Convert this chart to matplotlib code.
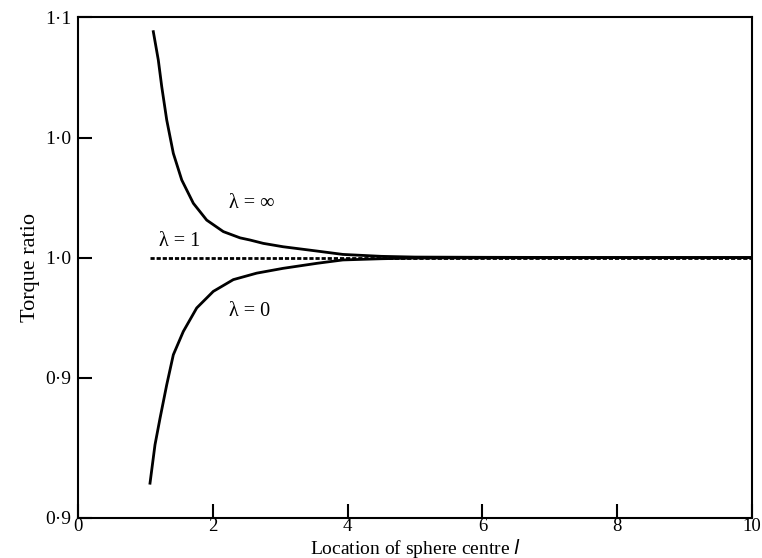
import matplotlib.pyplot as plt

# values
l_inf = [1.117, 1.191, 1.242, 1.316, 1.414, 1.539, 1.711, 1.909, 2.156, 2.404,
         2.552, 2.749, 3.042, 3.546, 3.93, 4.5, 5.0, 6.0, 8.0, 10.0]
r_inf = [1.0941, 1.0823, 1.0712, 1.0573, 1.0434, 1.0323, 1.0226, 1.0156, 1.0108, 1.0082,
         1.0073, 1.0059, 1.0045, 1.0027, 1.0013, 1.0005, 1.0002, 1.0001, 1.0, 1.0]

l_zero = [1.068, 1.142, 1.217, 1.316, 1.414, 1.562, 1.761, 2.007, 2.304, 2.651,
          3.042, 3.546, 3.93, 4.5, 5.0, 6.0, 8.0, 10.0]
r_zero = [0.906, 0.922, 0.9331, 0.947, 0.9595, 0.9692, 0.979, 0.9859, 0.9908, 0.9935,
          0.9955, 0.9976, 0.999, 0.9995, 0.9998, 0.9999, 1.0, 1.0]

l_one = [1.07, 10.0]
r_one = [1.0, 1.0]

y_ticks = [0.8915, 0.95, 1.0, 1.05, 1.10]
y_labels = ["0·9", "0·9", "1·0", "1·0", "1·1"]
x_ticks = [0, 2, 4, 6, 8, 10]

plt.rcParams['font.family'] = ['Liberation Serif', 'DejaVu Serif']

fig = plt.figure(figsize=(7.62, 5.58), dpi=100)
ax = fig.add_axes([0.1024, 0.0717, 0.8845, 0.8978])

ax.plot(l_inf, r_inf, color='black', lw=2)
ax.plot(l_zero, r_zero, color='black', lw=2)
ax.plot(l_one, r_one, color='black', lw=2, linestyle=(0, (1.5, 0.7)))

ax.text(2.58, 1.0227, "λ = ∞", fontsize=14.5, ha='center', va='center')
ax.text(1.50, 1.0065, "λ = 1", fontsize=14.5, ha='center', va='center')
ax.text(2.55, 0.9777, "λ = 0", fontsize=14.5, ha='center', va='center')

ax.set_xlim(0, 10)
ax.set_ylim(0.8915, 1.1002)
ax.set_xticks(x_ticks)
ax.set_yticks(y_ticks)
ax.set_yticklabels(y_labels)
ax.tick_params(direction='in', length=10, width=1.5, labelsize=14)
ax.tick_params(axis='x', pad=0, labelsize=13.5)
ax.tick_params(axis='y', pad=5)
for s in ax.spines.values():
    s.set_linewidth(1.5)

ax.set_xlabel("Location of sphere centre $\\it{l}$", fontsize=14, va='center')
ax.xaxis.set_label_coords(0.5, -0.06)
ax.set_ylabel("Torque ratio", fontsize=16, va='center')
ax.yaxis.set_label_coords(-0.071, 0.5)

fig.savefig("out.png", dpi=100)
